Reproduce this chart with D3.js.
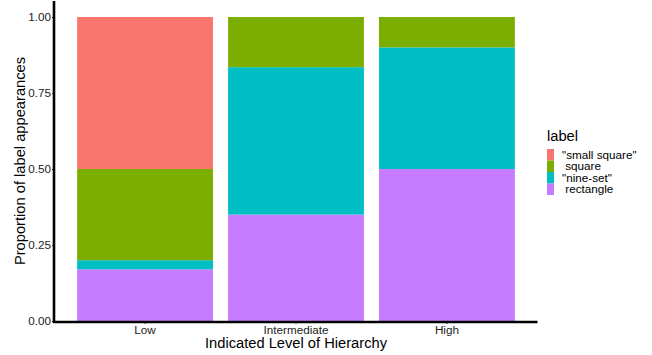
<!DOCTYPE html>
<html>
<head>
<meta charset="utf-8">
<script src="https://cdn.jsdelivr.net/npm/d3@7"></script>
<style>
  body { margin: 0; background: #fff; }
  text { font-family: "Liberation Sans", Arial, sans-serif; }
</style>
</head>
<body>
<script>
// data
var levels = ["Low", "Intermediate", "High"];
var labels = ["\"small square\"", " square", "\"nine-set\"", " rectangle"];
var colors = ["#F8766D", "#7CAE00", "#00BFC4", "#C77CFF"];
// proportions per level, stacked bottom up: rectangle, nine-set, square, small square
var rectangle   = [0.17, 0.35,  0.50];
var nineSet     = [0.03, 0.485, 0.40];
var square      = [0.30, 0.165, 0.10];
var smallSquare = [0.50, 0.00,  0.00];
var yTicks = [0, 0.25, 0.5, 0.75, 1];

var width = 652, height = 355;

var svg = d3.select("body").append("svg")
    .attr("width", width)
    .attr("height", height);

// set the ranges
var x = d3.scaleBand()
    .domain(levels)
    .range([54.5, 537.5])
    .paddingInner(0.1)
    .paddingOuter(0.15);
var y = d3.scaleLinear()
    .domain([0, 1])
    .range([321, 17]);

// build the stack table from the arrays
var table = levels.map(function(l, i) {
  return {
    level: l,
    rectangle: rectangle[i],
    nineSet: nineSet[i],
    square: square[i],
    smallSquare: smallSquare[i]
  };
});
var keys = ["rectangle", "nineSet", "square", "smallSquare"];
var keyColor = { smallSquare: colors[0], square: colors[1], nineSet: colors[2], rectangle: colors[3] };
var series = d3.stack().keys(keys)(table);

svg.append("g").selectAll("g")
    .data(series)
  .enter().append("g")
    .attr("fill", function(d) { return keyColor[d.key]; })
  .selectAll("rect")
    .data(function(d) { return d; })
  .enter().append("rect")
    .attr("x", function(d) { return x(d.data.level); })
    .attr("width", x.bandwidth())
    .attr("y", function(d) { return y(d[1]); })
    .attr("height", function(d) { return y(d[0]) - y(d[1]); });

// y axis
var yAxis = svg.append("g")
    .attr("transform", "translate(54,0)")
    .call(d3.axisLeft(y).tickValues(yTicks).tickFormat(d3.format(".2f")).tickSize(2).tickPadding(1));
yAxis.select(".domain").remove();
yAxis.selectAll("line").attr("stroke", "#333");
yAxis.selectAll("text").attr("fill", "#222").style("font-size", "11.7px")
    .attr("font-family", "Liberation Sans, Arial, sans-serif");

// x axis
var xAxis = svg.append("g")
    .attr("transform", "translate(0,322)")
    .call(d3.axisBottom(x).tickSize(2).tickPadding(2));
xAxis.select(".domain").remove();
xAxis.selectAll("line").attr("stroke", "#333");
xAxis.selectAll("text").attr("fill", "#222").style("font-size", "11.7px")
    .attr("font-family", "Liberation Sans, Arial, sans-serif");

// axis lines
svg.append("line")
    .attr("x1", 54).attr("x2", 54).attr("y1", 1).attr("y2", 323)
    .attr("stroke", "#000").attr("stroke-width", 2.6);
svg.append("line")
    .attr("x1", 53).attr("x2", 537.5).attr("y1", 322).attr("y2", 322)
    .attr("stroke", "#000").attr("stroke-width", 2.6);

// axis titles
svg.append("text")
    .attr("x", 296)
    .attr("y", 348)
    .attr("text-anchor", "middle")
    .style("font-size", "14.7px")
    .text("Indicated Level of Hierarchy");

svg.append("text")
    .attr("transform", "translate(25,161) rotate(-90)")
    .attr("text-anchor", "middle")
    .style("font-size", "14.7px")
    .text("Proportion of label appearances");

// legend
var legend = svg.append("g").attr("transform", "translate(547,0)");
legend.append("text")
    .attr("x", 0).attr("y", 141)
    .style("font-size", "14.7px")
    .text("label");
var keyH = 11.5;
labels.forEach(function(lab, i) {
  legend.append("rect")
      .attr("x", 0).attr("y", 149 + i * keyH)
      .attr("width", 7).attr("height", keyH)
      .attr("fill", colors[i]);
  legend.append("text")
      .attr("x", 15).attr("y", 149 + i * keyH + keyH / 2 + 4)
      .style("font-size", "11.7px")
      .style("white-space", "pre")
      .attr("xml:space", "preserve")
      .text(lab);
});
</script>
</body>
</html>
